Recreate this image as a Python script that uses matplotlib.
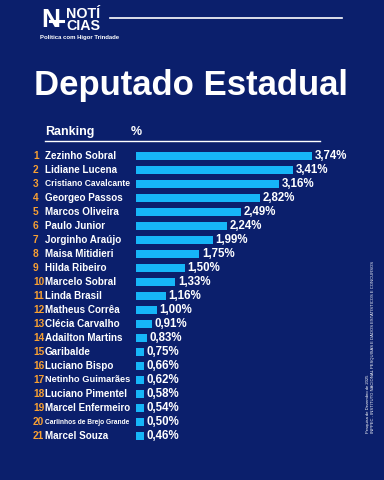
import matplotlib
matplotlib.use("Agg")
import matplotlib.pyplot as plt
import matplotlib.transforms as mtransforms
from matplotlib.lines import Line2D
import numpy as np

plt.rcParams['font.family'] = ['Liberation Sans', 'DejaVu Sans']

names = ["Zezinho Sobral", "Lidiane Lucena", "Cristiano Cavalcante", "Georgeo Passos",
         "Marcos Oliveira", "Paulo Junior", "Jorginho Araújo", "Maisa Mitidieri",
         "Hilda Ribeiro", "Marcelo Sobral", "Linda Brasil", "Matheus Corrêa",
         "Clécia Carvalho", "Adailton Martins", "Garibalde", "Luciano Bispo",
         "Netinho Guimarães", "Luciano Pimentel", "Marcel Enfermeiro",
         "Carlinhos de Brejo Grande", "Marcel Souza"]
values = [3.74, 3.41, 3.16, 2.82, 2.49, 2.24, 1.99, 1.75, 1.50, 1.33, 1.16,
          1.00, 0.91, 0.83, 0.75, 0.66, 0.62, 0.58, 0.54, 0.50, 0.46]
ranks = list(range(1, len(names) + 1))

BG = "#0b1f6c"
BAR = "#16b6f8"
ORANGE = "#f7a033"
W, H = 384, 480

fig = plt.figure(figsize=(3.84, 4.8), dpi=100, facecolor=BG)

# bars in the artwork are not proportional: offset scale with a minimum stub
def fwd(v):
    v = np.asarray(v, float)
    return np.where(v <= 0, v, np.maximum(v - 0.63, 0.14))

def inv(w):
    w = np.asarray(w, float)
    return np.where(w <= 0, w, w + 0.63)

ax = fig.add_axes([135.7 / W, 1 - 443 / H, 200 / W, 294 / H])
ax.set_facecolor(BG)
ax.set_xscale('function', functions=(fwd, inv))
ax.set_xlim(0, 0.63 + 200 / 56.6)
ax.set_ylim(len(names) + 0.5, 0.5)
ax.axis('off')

ax.barh(ranks, values, height=0.62, color=BAR, edgecolor='none')
for r, v in zip(ranks, values):
    ax.annotate(f"{v:.2f}%".replace('.', ','), (v, r), xytext=(2, 0),
                textcoords='offset points', va='center', ha='left',
                color='white', fontsize=8.3, fontweight='bold')

# ranking numbers and names
tr = mtransforms.blended_transform_factory(fig.transFigure, ax.transData)
renderer = fig.canvas.get_renderer()
for r, n in zip(ranks, names):
    ax.text(33 / W, r, str(r), transform=tr, ha='left', va='center',
            color=ORANGE, fontsize=7.3, fontweight='bold')
    t = ax.text(45 / W, r, n, transform=tr, ha='left', va='center',
                color='white', fontsize=7.1, fontweight='bold')
    wpx = t.get_window_extent(renderer).width
    if wpx > 85:
        t.set_fontsize(7.1 * 85 / wpx)

# header
fig.text(45 / W, 1 - 132 / H, "Ranking", color='white', fontsize=9,
         fontweight='bold', va='center', ha='left')
fig.text(131 / W, 1 - 132 / H, "%", color='white', fontsize=9,
         fontweight='bold', va='center', ha='left')
fig.add_artist(Line2D([45 / W, 320 / W], [1 - 141 / H, 1 - 141 / H],
                      color='white', lw=1.0, transform=fig.transFigure))

fig.text(191 / W, 1 - 95 / H, "Deputado Estadual", color='white', fontsize=25,
         fontweight='bold', ha='center', va='baseline')

# logo
fig.text(41 / W, 1 - 20 / H, "N", color='white', fontsize=19,
         fontweight='bold', ha='left', va='center')
fig.add_artist(Line2D([50 / W, 63 / W], [1 - 21 / H, 1 - 21 / H],
                      color='white', lw=2.2, transform=fig.transFigure))
fig.text(66 / W, 1 - 20 / H, "NOTÍ\nCIAS", color='white', fontsize=10.3,
         fontweight='bold', ha='left', va='center', linespacing=0.9)
fig.text(40 / W, 1 - 37 / H, "Política com Higor Trindade", color='white',
         fontsize=4.3, fontweight='bold', ha='left', va='center')
fig.add_artist(Line2D([110 / W, 342 / W], [1 - 18 / H, 1 - 18 / H],
                      color='white', lw=1.2, transform=fig.transFigure))

# source note
fig.text(368 / W, 1 - 433 / H, "Pesquisa de Dezembro de 2025", color='white',
         fontsize=3, rotation=90, ha='center', va='bottom')
fig.text(373 / W, 1 - 433 / H,
         "INPPEC - INSTITUTO NACIONAL PESQUISAS E DADOS ESTATÍSTICOS E CONCURSOS",
         color='white', fontsize=3, rotation=90, ha='center', va='bottom')

fig.savefig("out.png", dpi=100, facecolor=BG)
